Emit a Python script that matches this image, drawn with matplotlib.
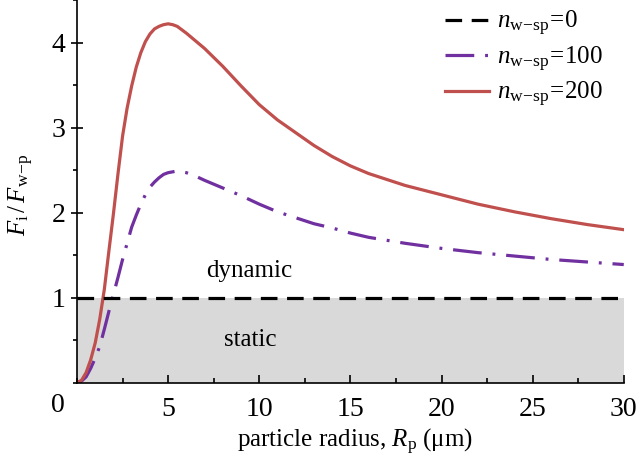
import matplotlib
matplotlib.use("Agg")
import matplotlib.pyplot as plt
from matplotlib.ticker import MultipleLocator

plt.rcParams['font.family'] = ['Liberation Serif', 'DejaVu Serif']
plt.rcParams['mathtext.fontset'] = 'custom'
plt.rcParams['mathtext.rm'] = 'Liberation Serif'
plt.rcParams['mathtext.it'] = 'Liberation Serif:italic'
plt.rcParams['mathtext.bf'] = 'Liberation Serif:bold'

# Data
radius = [0, 0.25, 0.5, 0.75, 1, 1.25, 1.5, 1.75, 2, 2.25, 2.5, 2.75, 3, 3.25,
          3.5, 3.75, 4, 4.25, 4.5, 4.75, 5, 5.25, 5.5, 6, 6.5, 7, 8, 9, 10, 11,
          12, 13, 14, 15, 16, 18, 20, 22, 24, 26, 28, 30]
ratio_n200 = [0, 0.03, 0.12, 0.27, 0.47, 0.75, 1.10, 1.55, 1.99, 2.46, 2.90,
              3.23, 3.49, 3.71, 3.88, 4.01, 4.10, 4.16, 4.19, 4.21, 4.22, 4.21,
              4.19, 4.11, 4.02, 3.93, 3.72, 3.49, 3.27, 3.09, 2.94, 2.79, 2.66,
              2.55, 2.46, 2.32, 2.21, 2.10, 2.01, 1.93, 1.86, 1.80]
ratio_n100 = [0, 0.02, 0.07, 0.17, 0.29, 0.43, 0.63, 0.84, 1.04, 1.24, 1.45,
              1.64, 1.83, 1.97, 2.10, 2.21, 2.30, 2.36, 2.41, 2.45, 2.47, 2.48,
              2.49, 2.47, 2.43, 2.38, 2.29, 2.20, 2.10, 2.01, 1.94, 1.87, 1.82,
              1.76, 1.71, 1.64, 1.58, 1.53, 1.49, 1.45, 1.42, 1.39]
ratio_n0_x = [0, 30]
ratio_n0 = [1, 1]
labels = [r'$n_{\mathrm{w\!-\!sp}}\!=\!0$', r'$n_{\mathrm{w\!-\!sp}}\!=\!100$',
          r'$n_{\mathrm{w\!-\!sp}}\!=\!200$']
x_ticks = [5, 10, 15, 20, 25, 30]
y_ticks = [1, 2, 3, 4]

fig = plt.figure(figsize=(6.38, 4.72), dpi=100)
ax = fig.add_axes([0.1207, 0.189, 0.857, 0.811])

ax.fill_between(ratio_n0_x, 0, ratio_n0, color='#d9d9d9', lw=0, zorder=0)
ax.plot(ratio_n0_x, ratio_n0, color='black', lw=2.3, dashes=(5.2, 3.0),
        label=labels[0], zorder=3)
ax.plot(radius, ratio_n100, color='#7030a0', lw=2.3,
        dashes=(9, 3.4, 0.9, 3.4), label=labels[1], zorder=2)
ax.plot(radius, ratio_n200, color='#c0504d', lw=2.3, label=labels[2], zorder=2)

ax.text(9.45, 1.31, 'dynamic', fontsize=18, ha='center', va='center')
ax.text(9.5, 0.50, 'static', fontsize=18, ha='center', va='center')

ax.set_xlim(0, 30)
ax.set_ylim(0, 4.5)
ax.set_xticks(x_ticks)
ax.set_xticklabels([str(v) for v in x_ticks])
ax.xaxis.set_minor_locator(MultipleLocator(2.5))
ax.set_yticks(y_ticks)
ax.set_yticklabels([str(v) for v in y_ticks])
ax.yaxis.set_minor_locator(MultipleLocator(0.5))

for s in ['top', 'right']:
    ax.spines[s].set_visible(False)
for s in ['left', 'bottom']:
    ax.spines[s].set_linewidth(1.2)

ax.tick_params(axis='x', which='major', direction='in', length=6, width=1.2,
               labelsize=20, pad=10)
ax.tick_params(axis='x', which='minor', direction='in', length=3.5, width=1.2)
ax.tick_params(axis='y', which='major', direction='inout', length=9, width=1.2,
               labelsize=20, pad=4)
ax.tick_params(axis='y', which='minor', direction='out', length=3, width=1.2)

# shared origin label
fig.text(58 / 638, 1 - 406 / 472, '0', fontsize=20, ha='center', va='center')

fig.text(355 / 638, 1 - 442 / 472, r'particle radius, $R_{\mathrm{p}}$ (μm)',
         fontsize=18, ha='center', va='center')
fig.text(21 / 638, 1 - 195 / 472, r'$F_{\mathrm{i}}\,/\,F_{\mathrm{w\!-\!p}}$',
         fontsize=18, ha='center', va='center', rotation=90)

ax.legend(loc='upper right', frameon=False, fontsize=18, handlelength=1.75,
          handletextpad=0.35, labelspacing=0.25, borderaxespad=0.2,
          bbox_to_anchor=(0.99, 1.015))

fig.savefig('out.png', dpi=100)
